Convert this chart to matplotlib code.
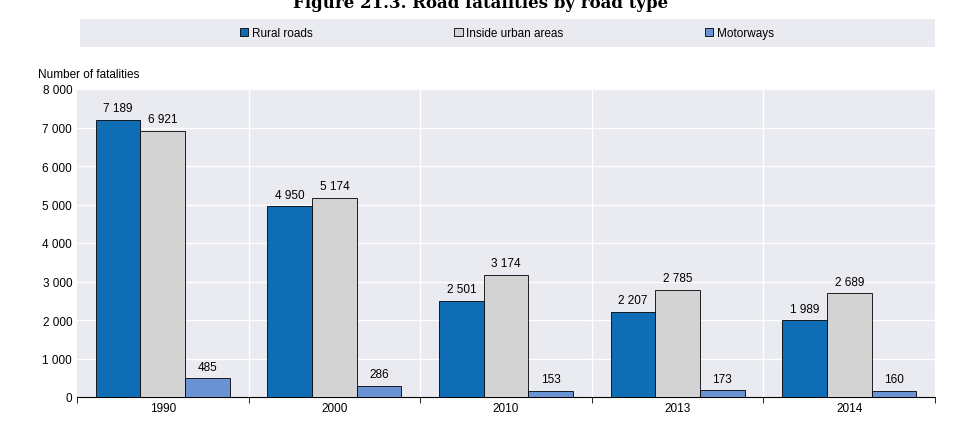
import numpy as np
import matplotlib.pyplot as plt
from matplotlib.patches import Rectangle

years = ["1990", "2000", "2010", "2013", "2014"]
rural = [7189, 4950, 2501, 2207, 1989]
urban = [6921, 5174, 3174, 2785, 2689]
motorways = [485, 286, 153, 173, 160]
series = [("Rural roads", rural, "#0f6db5"),
          ("Inside urban areas", urban, "#d3d3d3"),
          ("Motorways", motorways, "#6a93d4")]

plt.rcParams['font.family'] = ['Liberation Sans', 'DejaVu Sans']
fig = plt.figure(figsize=(9.61, 4.35), dpi=100)
ax = fig.add_axes([77/961, 37/435, 858/961, 308/435])

x = np.arange(len(years))
w = 0.26
for i, (name, vals, col) in enumerate(series):
    pos = x + (i - 1) * w
    bars = ax.bar(pos, vals, w, color=col, edgecolor="black", linewidth=0.6, label=name, zorder=3)
    for b, v in zip(bars, vals):
        ax.text(b.get_x() + b.get_width() / 2, v + 150, f"{v:,}".replace(",", " "),
                ha="center", va="bottom", fontsize=8.5)

ax.set_xlim(-0.5, len(years) - 0.5)
ax.set_ylim(0, 8000)
ax.set_yticks(range(0, 8001, 1000))
ax.set_yticklabels([f"{v:,}".replace(",", " ") for v in range(0, 8001, 1000)], fontsize=8.5)
ax.set_xticks(x)
ax.set_xticklabels(years, fontsize=8.5)
ax.set_xticks(np.arange(-0.5, len(years)), minor=True)
ax.tick_params(axis="x", which="major", length=0)
ax.tick_params(axis="x", which="minor", length=4)
ax.tick_params(axis="y", length=0)
ax.grid(axis="y", color="white", linewidth=1, zorder=1)
for xv in np.arange(0.5, len(years) - 0.5):
    ax.axvline(xv, color="white", linewidth=1, zorder=1)
ax.set_facecolor("#e9ebf1")
for s in ["top", "right", "left"]:
    ax.spines[s].set_visible(False)
ax.text(-0.045, 1.03, "Number of fatalities", transform=ax.transAxes, fontsize=8.5, va="bottom")

# legend band
fig.patches.append(Rectangle((80/961, 387/435), 855/961, 28/435, transform=fig.transFigure,
                             facecolor="#e9ebf1", edgecolor="none"))
fig.legend(loc="center", bbox_to_anchor=(507/961, 401/435), ncol=3, frameon=False,
           fontsize=8.5, handlelength=0.7, handleheight=0.7, columnspacing=12, handletextpad=0.3)

fig.text(0.5, 0.993, "Figure 21.3. Road fatalities by road type", ha="center", va="center",
         fontsize=12, fontweight="bold", family="DejaVu Serif")

fig.savefig("out.png", dpi=100)
